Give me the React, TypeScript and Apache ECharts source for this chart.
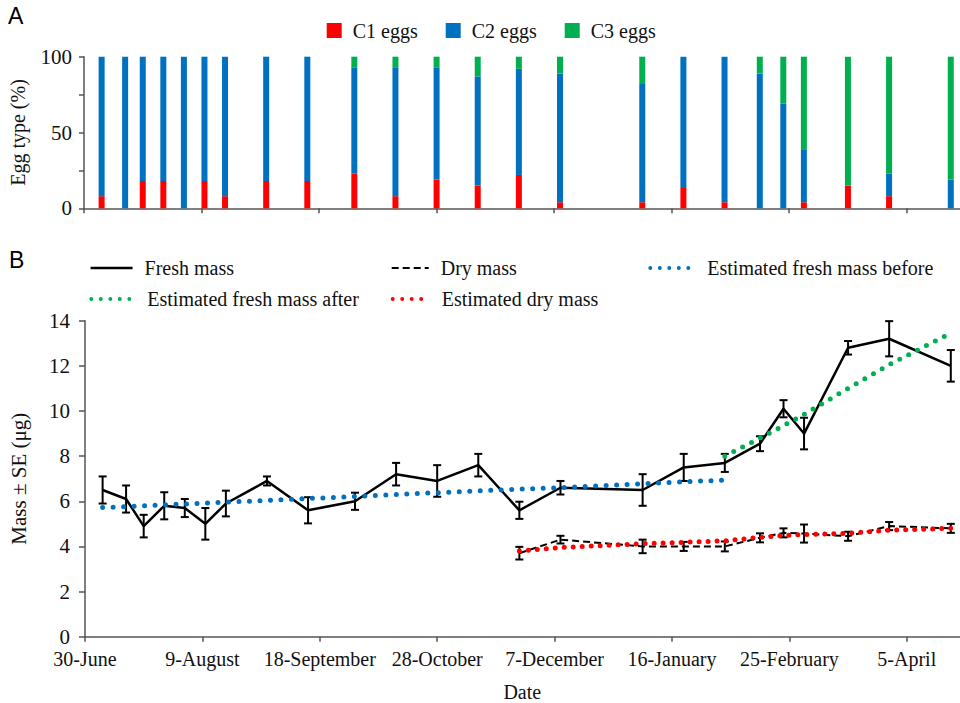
import React, { useEffect, useRef } from 'react';
import * as echarts from 'echarts';

// ---- data ----
const dateLabels = ['30-June', '9-August', '18-September', '28-October', '7-December', '16-January', '25-February', '5-April'];
const dateTicks = [0, 40, 80, 120, 160, 200, 240, 280];

const sampleDays = [6, 14, 20, 27, 34, 41, 48, 62, 76, 92, 106, 120, 134, 148, 162, 190, 204, 218, 230, 238, 245, 260, 274, 295];
const c1Eggs = [8, 0, 18, 18, 0, 18, 8, 18, 18, 23, 8, 19, 15, 22, 4, 4, 14, 4, 0, 0, 4, 15, 8, 0];
const c2Eggs = [92, 100, 82, 82, 100, 82, 92, 82, 82, 70, 85, 74, 72, 70, 85, 78, 86, 96, 89, 69, 35, 0, 15, 19];
const c3Eggs = [0, 0, 0, 0, 0, 0, 0, 0, 0, 7, 7, 7, 13, 8, 11, 18, 0, 0, 11, 31, 61, 85, 77, 81];

const freshMean = [6.5, 6.1, 4.9, 5.8, 5.7, 5.0, 5.9, 6.9, 5.6, 6.0, 7.2, 6.9, 7.6, 5.6, 6.6, 6.5, 7.5, 7.7, 8.55, 10.1, 9.0, 12.8, 13.2, 12.0];
const freshSE = [0.6, 0.6, 0.5, 0.6, 0.4, 0.7, 0.57, 0.2, 0.58, 0.38, 0.5, 0.7, 0.5, 0.38, 0.3, 0.7, 0.6, 0.4, 0.33, 0.38, 0.7, 0.3, 0.78, 0.7];

const dryDays = [148, 162, 190, 204, 218, 230, 238, 245, 260, 274, 295];
const dryMean = [3.7, 4.3, 4.0, 4.0, 4.0, 4.38, 4.6, 4.57, 4.45, 4.9, 4.8];
const drySE = [0.28, 0.17, 0.3, 0.2, 0.22, 0.2, 0.2, 0.4, 0.2, 0.18, 0.2];

const estBeforeDays = [6, 14, 20, 27, 34, 41, 48, 62, 76, 92, 106, 120, 134, 148, 162, 190, 204, 218];
const estBefore = [5.72, 5.76, 5.8, 5.84, 5.88, 5.92, 5.96, 6.04, 6.12, 6.21, 6.3, 6.38, 6.46, 6.54, 6.6, 6.78, 6.86, 6.94];
const estAfterDays = [218, 230, 238, 245, 260, 274, 295];
const estAfter = [8.0, 8.8, 9.35, 9.85, 11.0, 12.05, 13.45];
const estDry = [3.8, 3.95, 4.12, 4.18, 4.25, 4.4, 4.48, 4.53, 4.58, 4.72, 4.8];

const SERIF = "'Liberation Serif', 'Times New Roman', serif";
const AXIS_COLOR = '#555';
const RED = '#FF0000';
const BLUE = '#0070C0';
const GREEN = '#00B050';

const zip = (xs: number[], ys: number[]) => xs.map((x, i) => [x, ys[i]]);
const zip3 = (xs: number[], ys: number[], es: number[]) => xs.map((x, i) => [x, ys[i], es[i]]);

// stacked segments: [day, base, value]
const c2Base = c1Eggs.slice();
const c3Base = c1Eggs.map((v, i) => v + c2Eggs[i]);
const c1Data = zip3(sampleDays, sampleDays.map(() => 0), c1Eggs);
const c2Data = zip3(sampleDays, c2Base, c2Eggs);
const c3Data = zip3(sampleDays, c3Base, c3Eggs);

const BAR_W = 6;
const stackRender = (params: any, api: any) => {
  const x = api.value(0);
  const b = api.value(1);
  const v = api.value(2);
  if (!v) return null;
  const p0 = api.coord([x, b]);
  const p1 = api.coord([x, b + v]);
  return {
    type: 'rect',
    shape: { x: p0[0] - BAR_W / 2, y: p1[1], width: BAR_W, height: p0[1] - p1[1] },
    style: { fill: api.visual('color') },
  };
};

const errorBarRender = (params: any, api: any) => {
  const x = api.value(0);
  const m = api.value(1);
  const e = api.value(2);
  const top = api.coord([x, m + e]);
  const bot = api.coord([x, m - e]);
  const hw = 4;
  const style = { stroke: '#000', lineWidth: 2 };
  return {
    type: 'group',
    children: [
      { type: 'line', shape: { x1: top[0], y1: top[1], x2: bot[0], y2: bot[1] }, style },
      { type: 'line', shape: { x1: top[0] - hw, y1: top[1], x2: top[0] + hw, y2: top[1] }, style },
      { type: 'line', shape: { x1: bot[0] - hw, y1: bot[1], x2: bot[0] + hw, y2: bot[1] }, style },
    ],
  };
};

const axisLineStyle = { show: true, lineStyle: { color: AXIS_COLOR, width: 1.5 } };
const tickStyle = { show: true, length: 5, lineStyle: { color: AXIS_COLOR, width: 1.5 } };

const lineLegend = (name: string, left: number, top: number, width: number, ls: any) => ({
  show: true,
  left,
  top,
  padding: 0,
  orient: 'horizontal',
  itemWidth: width,
  itemHeight: 14,
  data: [name],
  selectedMode: false,
  itemStyle: { color: 'rgba(0,0,0,0)', borderColor: 'rgba(0,0,0,0)', borderWidth: 0 },
  lineStyle: ls,
  textStyle: { fontFamily: SERIF, fontSize: 20, color: '#111', padding: [0, 0, 0, 7] },
});

export default function App() {
  const ref = useRef<HTMLDivElement>(null);
  useEffect(() => {
    document.body.style.margin = '0';
    if (!ref.current) return;
    const chart = echarts.init(ref.current, undefined, { renderer: 'svg' });
    const gridLeft = 83.3;
    const gridWidth = 876.3;
    const xMax = 298;

    const xAxisCommon = {
      type: 'value',
      min: 0,
      max: xMax,
      interval: 40,
      splitLine: { show: false },
      axisLine: axisLineStyle,
      axisTick: { ...tickStyle, customValues: dateTicks },
    };

    const option: any = {
      animation: false,
      backgroundColor: '#fff',
      graphic: [
        { type: 'text', left: 8, top: 4, style: { text: 'A', fontFamily: 'Liberation Sans', fontSize: 23, fill: '#000' } },
        { type: 'text', left: 9, top: 248, style: { text: 'B', fontFamily: 'Liberation Sans', fontSize: 23, fill: '#000' } },
      ],
      legend: [
        {
          left: 326.7,
          top: 20.5,
          padding: 0,
          itemWidth: 15,
          itemHeight: 15,
          itemGap: 28,
          icon: 'rect',
          selectedMode: false,
          data: ['C1 eggs', 'C2 eggs', 'C3 eggs'],
          textStyle: { fontFamily: SERIF, fontSize: 20, color: '#111', padding: [0, 0, 0, 6] },
        },
        lineLegend('Fresh mass', 89.3, 258, 42, { width: 2.5 }),
        lineLegend('Dry mass', 390.7, 258, 37, { width: 2 }),
        lineLegend('Estimated fresh mass before', 648.3, 258, 45, { width: 4, type: [0, 9.5], cap: 'round' }),
        lineLegend('Estimated fresh mass after', 89.3, 289, 44, { width: 4, type: [0, 9.5], cap: 'round' }),
        lineLegend('Estimated dry mass', 390.7, 289, 37, { width: 4, type: [0, 9.5], cap: 'round' }),
      ],
      grid: [
        { left: gridLeft, top: 56.7, width: gridWidth, height: 151.6 },
        { left: gridLeft, top: 320.7, width: gridWidth, height: 316 },
      ],
      xAxis: [
        { ...xAxisCommon, gridIndex: 0, axisLabel: { show: false } },
        {
          ...xAxisCommon,
          gridIndex: 1,
          name: 'Date',
          nameLocation: 'middle',
          nameGap: 45,
          nameTextStyle: { fontFamily: SERIF, fontSize: 20, color: '#111' },
          axisLabel: {
            show: true,
            customValues: dateTicks,
            margin: 12,
            fontFamily: SERIF,
            fontSize: 20,
            color: '#111',
            formatter: (v: number) => dateLabels[Math.round(v / 40)] ?? '',
          },
        },
      ],
      yAxis: [
        {
          type: 'value',
          gridIndex: 0,
          min: 0,
          max: 100,
          interval: 25,
          splitLine: { show: false },
          axisLine: axisLineStyle,
          axisTick: tickStyle,
          name: 'Egg type (%)',
          nameLocation: 'middle',
          nameGap: 56,
          nameTextStyle: { fontFamily: SERIF, fontSize: 20, color: '#111' },
          axisLabel: {
            margin: 12,
            fontFamily: SERIF,
            fontSize: 21,
            color: '#111',
            formatter: (v: number) => (v % 50 === 0 ? String(v) : ''),
          },
        },
        {
          type: 'value',
          gridIndex: 1,
          min: 0,
          max: 14,
          interval: 2,
          splitLine: { show: false },
          axisLine: axisLineStyle,
          axisTick: { ...tickStyle, length: 6 },
          name: 'Mass ± SE (μg)',
          nameLocation: 'middle',
          nameGap: 56,
          nameTextStyle: { fontFamily: SERIF, fontSize: 21, color: '#111' },
          axisLabel: { margin: 15, fontFamily: SERIF, fontSize: 21, color: '#111' },
        },
      ],
      series: [
        { name: 'C1 eggs', type: 'custom', xAxisIndex: 0, yAxisIndex: 0, renderItem: stackRender, encode: { x: 0, y: 2 }, itemStyle: { color: RED }, data: c1Data },
        { name: 'C2 eggs', type: 'custom', xAxisIndex: 0, yAxisIndex: 0, renderItem: stackRender, encode: { x: 0, y: 2 }, itemStyle: { color: BLUE }, data: c2Data },
        { name: 'C3 eggs', type: 'custom', xAxisIndex: 0, yAxisIndex: 0, renderItem: stackRender, encode: { x: 0, y: 2 }, itemStyle: { color: GREEN }, data: c3Data },
        {
          name: 'Fresh mass', type: 'line', xAxisIndex: 1, yAxisIndex: 1, symbol: 'none', z: 3,
          lineStyle: { color: '#000', width: 2.5 }, itemStyle: { color: '#000' },
          data: zip(sampleDays, freshMean),
        },
        {
          name: 'freshErr', type: 'custom', xAxisIndex: 1, yAxisIndex: 1, z: 3,
          renderItem: errorBarRender, encode: { x: 0, y: 1 },
          data: zip3(sampleDays, freshMean, freshSE),
        },
        {
          name: 'Dry mass', type: 'line', xAxisIndex: 1, yAxisIndex: 1, symbol: 'none', z: 3,
          lineStyle: { color: '#000', width: 2, type: [7, 4] }, itemStyle: { color: '#000' },
          data: zip(dryDays, dryMean),
        },
        {
          name: 'dryErr', type: 'custom', xAxisIndex: 1, yAxisIndex: 1, z: 3,
          renderItem: errorBarRender, encode: { x: 0, y: 1 },
          data: zip3(dryDays, dryMean, drySE),
        },
        {
          name: 'Estimated fresh mass before', type: 'line', xAxisIndex: 1, yAxisIndex: 1, symbol: 'none', z: 4,
          lineStyle: { color: BLUE, width: 5, type: [0, 10.5], cap: 'round' }, itemStyle: { color: BLUE },
          data: zip(estBeforeDays, estBefore),
        },
        {
          name: 'Estimated fresh mass after', type: 'line', xAxisIndex: 1, yAxisIndex: 1, symbol: 'none', z: 4,
          lineStyle: { color: GREEN, width: 5, type: [0, 10], cap: 'round' }, itemStyle: { color: GREEN },
          data: zip(estAfterDays, estAfter),
        },
        {
          name: 'Estimated dry mass', type: 'line', xAxisIndex: 1, yAxisIndex: 1, symbol: 'none', z: 4,
          lineStyle: { color: RED, width: 5, type: [0, 9], cap: 'round' }, itemStyle: { color: RED },
          data: zip(dryDays, estDry),
        },
      ],
    };
    chart.setOption(option);
    return () => chart.dispose();
  }, []);
  return <div ref={ref} style={{ width: 960, height: 703 }} />;
}
